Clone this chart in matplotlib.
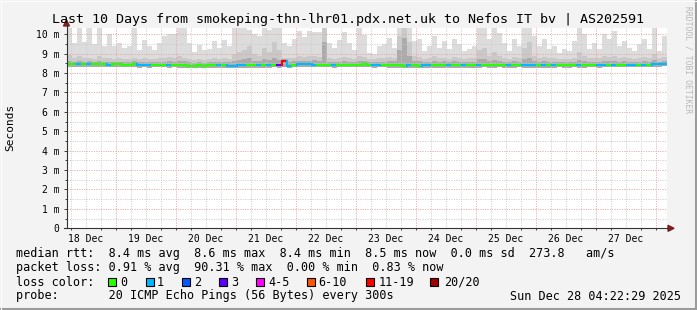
import numpy as np
import matplotlib
matplotlib.use("Agg")
import matplotlib.pyplot as plt
from matplotlib.collections import LineCollection
from matplotlib.patches import Rectangle, Polygon

W, H = 697, 310
MONO = "DejaVu Sans Mono"

# graph starts 18 Dec 04:22 (hours after 18 Dec 00:00), one value per 2 hours
t_start = 4.37
bin_hours = 2.0

# smoke: top of the outer (lightest) band, in ms
smoke_max = [
    10.5, 9.55, 10.5, 9.6, 10.5, 9.5, 10.5, 9.4, 10.0, 9.4, 9.55, 9.3, 9.4, 10.5, 9.2, 9.7, 9.4, 9.2, 9.55, 9.9,
    10.0, 10.0, 10.5, 10.5, 9.55, 9.1, 9.45, 9.2, 9.25, 9.65, 9.3, 9.7, 9.4, 10.5, 10.5, 10.5, 10.2, 10.0, 9.9, 10.5,
    10.2, 10.5, 10.5, 9.55, 9.4, 9.75, 10.15, 9.85, 10.15, 10.1, 10.1, 10.5, 9.55, 9.3, 9.7, 10.1, 9.55, 9.2, 10.5, 9.95,
    9.05, 8.97, 9.4, 9.48, 9.83, 9.31, 10.5, 10.5, 10.5, 9.65, 9.74, 9.14, 9.4, 9.91, 9.31, 9.65, 9.22, 9.74, 9.48, 9.14,
    9.22, 9.4, 10.5, 10.5, 9.74, 10.5, 10.08, 9.57, 9.14, 9.74, 9.4, 10.5, 10.5, 9.91, 9.4, 9.74, 9.22, 9.4, 9.05, 9.22,
    9.14, 9.65, 10.5, 10.0, 9.22, 9.57, 9.22, 10.0, 9.74, 10.17, 9.4, 9.65, 9.31, 9.14, 9.48, 9.74, 9.22, 10.5, 9.14, 9.91,
]
# top of the middle band
smoke_mid = [
    8.95, 8.8, 8.9, 8.75, 8.8, 8.7, 8.9, 8.75, 8.8, 8.7, 8.75, 8.7, 8.7, 8.8, 8.7, 8.75, 8.7, 8.7, 8.75, 8.8,
    8.85, 8.8, 8.9, 8.8, 8.7, 8.65, 8.7, 8.65, 8.7, 8.75, 8.7, 8.8, 8.7, 9.0, 9.1, 9.2, 9.4, 9.0, 8.9, 9.3,
    9.1, 9.6, 9.2, 8.75, 8.75, 8.8, 8.9, 8.85, 8.9, 8.9, 8.85, 10.5, 8.8, 8.7, 8.75, 8.85, 8.75, 8.7, 8.9, 8.85,
    8.7, 8.7, 8.75, 8.75, 8.85, 8.8, 9.9, 10.5, 9.6, 8.9, 8.85, 8.7, 8.75, 8.9, 8.75, 8.8, 8.7, 8.85, 8.8, 8.7,
    8.75, 8.8, 9.2, 9.3, 8.9, 9.1, 8.9, 8.8, 8.7, 8.85, 8.8, 9.3, 9.6, 8.9, 8.8, 8.85, 8.75, 8.8, 8.7, 8.7,
    8.7, 8.8, 9.1, 8.9, 8.75, 8.8, 8.75, 8.9, 8.85, 8.9, 8.8, 8.85, 8.75, 8.7, 8.8, 8.85, 8.75, 9.0, 8.75, 8.85,
]
# top of the dark band next to the median
smoke_dark = [
    8.62, 8.58, 8.60, 8.57, 8.60, 8.56, 8.62, 8.57, 8.59, 8.56, 8.57, 8.55, 8.56, 8.60, 8.55, 8.57, 8.55, 8.55, 8.57, 8.59,
    8.60, 8.58, 8.62, 8.60, 8.55, 8.54, 8.56, 8.54, 8.55, 8.57, 8.55, 8.58, 8.55, 8.64, 8.66, 8.70, 8.75, 8.62, 8.60, 8.70,
    8.66, 8.80, 8.66, 8.72, 8.58, 8.60, 8.64, 8.62, 8.64, 8.65, 8.62, 9.60, 8.58, 8.55, 8.57, 8.62, 8.57, 8.55, 8.64, 8.62,
    8.55, 8.55, 8.57, 8.57, 8.62, 8.60, 9.20, 9.80, 8.90, 8.64, 8.62, 8.55, 8.57, 8.64, 8.57, 8.60, 8.55, 8.62, 8.58, 8.55,
    8.57, 8.58, 8.70, 8.72, 8.64, 8.68, 8.64, 8.58, 8.55, 8.62, 8.58, 8.72, 8.80, 8.64, 8.58, 8.62, 8.57, 8.58, 8.55, 8.55,
    8.55, 8.58, 8.68, 8.64, 8.57, 8.58, 8.57, 8.64, 8.62, 8.64, 8.58, 8.62, 8.57, 8.55, 8.58, 8.62, 8.57, 8.66, 8.57, 8.62,
]
# bottom of the smoke
smoke_min = [
    8.30, 8.31, 8.30, 8.30, 8.29, 8.30, 8.31, 8.30, 8.29, 8.30, 8.30, 8.30, 8.29, 8.30, 8.28, 8.29, 8.28, 8.29, 8.30, 8.29,
    8.28, 8.29, 8.28, 8.28, 8.27, 8.27, 8.28, 8.27, 8.28, 8.28, 8.28, 8.28, 8.27, 8.27, 8.28, 8.28, 8.28, 8.28, 8.28, 8.28,
    8.28, 8.29, 8.27, 8.32, 8.27, 8.30, 8.32, 8.32, 8.31, 8.30, 8.30, 8.30, 8.30, 8.28, 8.29, 8.30, 8.29, 8.30, 8.30, 8.31,
    8.29, 8.28, 8.29, 8.29, 8.28, 8.28, 8.27, 8.27, 8.27, 8.28, 8.27, 8.28, 8.28, 8.28, 8.28, 8.28, 8.28, 8.28, 8.28, 8.28,
    8.28, 8.28, 8.28, 8.29, 8.28, 8.28, 8.29, 8.28, 8.28, 8.28, 8.29, 8.28, 8.28, 8.28, 8.28, 8.28, 8.28, 8.28, 8.29, 8.28,
    8.28, 8.29, 8.28, 8.28, 8.29, 8.29, 8.28, 8.29, 8.30, 8.29, 8.30, 8.29, 8.29, 8.30, 8.31, 8.30, 8.31, 8.32, 8.32, 8.34,
]
median_rtt = [
    8.45, 8.45, 8.44, 8.45, 8.44, 8.46, 8.45, 8.44, 8.43, 8.45, 8.44, 8.43, 8.42, 8.44, 8.41, 8.41, 8.41, 8.42, 8.43, 8.41,
    8.40, 8.41, 8.40, 8.39, 8.38, 8.38, 8.39, 8.38, 8.39, 8.40, 8.40, 8.40, 8.38, 8.38, 8.39, 8.39, 8.40, 8.39, 8.40, 8.39,
    8.40, 8.41, 8.39, 8.62, 8.38, 8.43, 8.46, 8.46, 8.45, 8.43, 8.42, 8.43, 8.42, 8.40, 8.41, 8.42, 8.41, 8.43, 8.42, 8.44,
    8.41, 8.40, 8.41, 8.41, 8.40, 8.40, 8.39, 8.38, 8.39, 8.39, 8.38, 8.39, 8.39, 8.40, 8.40, 8.39, 8.39, 8.40, 8.40, 8.39,
    8.40, 8.39, 8.40, 8.41, 8.40, 8.40, 8.41, 8.40, 8.39, 8.40, 8.41, 8.40, 8.39, 8.39, 8.40, 8.39, 8.40, 8.40, 8.41, 8.40,
    8.40, 8.41, 8.40, 8.40, 8.41, 8.41, 8.40, 8.41, 8.42, 8.41, 8.42, 8.41, 8.41, 8.42, 8.43, 8.42, 8.43, 8.44, 8.44, 8.46,
]
# lost pings (of 20) per value
loss = [
    0, 0, 1, 0, 1, 0, 0, 0, 1, 0, 0, 0, 0, 0, 1, 1, 1, 0, 0, 0,
    1, 0, 0, 0, 0, 0, 0, 0, 0, 0, 1, 0, 1, 1, 1, 1, 0, 0, 1, 0,
    1, 0, 3, 18, 1, 0, 1, 1, 1, 1, 0, 0, 0, 1, 0, 0, 0, 0, 0, 0,
    0, 1, 1, 0, 0, 0, 0, 0, 1, 0, 0, 1, 1, 0, 0, 0, 1, 0, 0, 1,
    0, 0, 1, 0, 0, 0, 0, 0, 1, 0, 0, 1, 1, 1, 0, 1, 0, 1, 0, 0,
    0, 0, 1, 0, 0, 0, 1, 1, 0, 1, 0, 0, 1, 1, 0, 1, 0, 1, 1, 1,
]

day_labels = ["18 Dec", "19 Dec", "20 Dec", "21 Dec", "22 Dec", "23 Dec", "24 Dec", "25 Dec", "26 Dec", "27 Dec"]
y_labels = ["0", "1 m", "2 m", "3 m", "4 m", "5 m", "6 m", "7 m", "8 m", "9 m", "10 m"]

loss_names = ["0", "1", "2", "3", "4-5", "6-10", "11-19", "20/20"]
loss_colors = ["#26ff00", "#00b8ff", "#0059ff", "#5e00ff", "#ff00ff", "#ff5500", "#ff0000", "#a10000"]
loss_upper = [0, 1, 2, 3, 5, 10, 19, 20]

title = "Last 10 Days from smokeping-thn-lhr01.pdx.net.uk to Nefos IT bv | AS202591"
line_rtt = "median rtt:  8.4 ms avg  8.6 ms max  8.4 ms min  8.5 ms now  0.0 ms sd  273.8   am/s"
line_loss = "packet loss: 0.91 % avg  90.31 % max  0.00 % min  0.83 % now"
line_probe = "probe:       20 ICMP Echo Pings (56 Bytes) every 300s"
stamp = "Sun Dec 28 04:22:29 2025"


def fx(px):
    return px / W


def fy(py):
    return 1 - py / H


def loss_color(n):
    for lim, c in zip(loss_upper, loss_colors):
        if n <= lim:
            return c
    return loss_colors[-1]


fig = plt.figure(figsize=(W / 100, H / 100), dpi=100, facecolor="#f3f3f3")

x0, x1, y0, y1 = 66.5, 666.5, 228.3, 28.0
ax = fig.add_axes([fx(x0), fy(y0), (x1 - x0) / W, (y0 - y1) / H])
ax.set_xlim(t_start, t_start + 240)
ax.set_ylim(0, 10.32)
ax.set_facecolor("white")
for s in ax.spines.values():
    s.set_visible(False)

edges = t_start + bin_hours * np.arange(len(smoke_max) + 1)

# smoke
ax.stairs(smoke_max, edges, baseline=smoke_min, fill=True, color="#dcdcdc", lw=0, zorder=1)
ax.stairs(smoke_mid, edges, baseline=smoke_min, fill=True, color="#c9c9c9", lw=0, zorder=1.1)
ax.stairs(smoke_dark, edges, baseline=smoke_min, fill=True, color="#ababab", lw=0, zorder=1.2)

# grid (dotted)
dots = (0, (1, 1.4))
for h in np.arange(6, 241, 6):
    major = h % 24 == 0
    ax.axvline(h, color="#eaa4a4" if major else "#cccccc", lw=0.72, ls=dots, zorder=2)
for v in np.arange(0.5, 10.4, 0.5):
    major = v % 1 == 0
    ax.axhline(v, color="#eaa4a4" if major else "#cccccc", lw=0.72, ls=dots, zorder=2)

# median line coloured by loss
segs, cols = [], []
for i, m in enumerate(median_rtt):
    c = loss_color(loss[i])
    if i > 0:
        segs.append([(edges[i], median_rtt[i - 1]), (edges[i], m)])
        cols.append(c)
    segs.append([(edges[i], m), (edges[i + 1], m)])
    cols.append(c)
ax.add_collection(LineCollection(segs, colors=cols, linewidths=1.5, capstyle="projecting", zorder=3))

# ticks
ax.set_yticks(range(11))
ax.set_yticklabels(y_labels, fontsize=7, family=MONO)
ax.set_yticks(np.arange(0.5, 10.4, 0.5), minor=True)
noons = [12 + 24 * d for d in range(10)]
ax.set_xticks(noons)
ax.set_xticklabels(day_labels, fontsize=7, family=MONO)
ax.set_xticks(np.arange(6, 241, 6), minor=True)
ax.tick_params(axis="y", which="major", length=2, width=0.7, color="#404040", pad=3)
ax.tick_params(axis="y", which="minor", length=1.2, width=0.7, color="#404040")
ax.tick_params(axis="x", which="major", length=0, pad=4)
ax.tick_params(axis="x", which="minor", length=1.5, width=0.7, color="#404040")

# axes lines with arrows
fig.add_artist(plt.Line2D([fx(x0), fx(x0)], [fy(y0), fy(25)], color="#333333", lw=0.8))
fig.add_artist(plt.Line2D([fx(x0 - 3), fx(669)], [fy(y0), fy(y0)], color="#333333", lw=0.8))
fig.add_artist(Polygon([(fx(x0 - 3), fy(26)), (fx(x0 + 3), fy(26)), (fx(x0), fy(20))],
                       closed=True, color="#7f1f1f", transform=fig.transFigure))
fig.add_artist(Polygon([(fx(668), fy(y0 - 3)), (fx(668), fy(y0 + 3)), (fx(674), fy(y0))],
                       closed=True, color="#7f1f1f", transform=fig.transFigure))

# texts
fig.text(0.5, fy(19), title, ha="center", va="center", fontsize=9.6, family=MONO)
fig.text(fx(10), fy(127), "Seconds", rotation=90, ha="center", va="center", fontsize=8, family=MONO)
fig.text(fx(688), fy(6), "RRDTOOL / TOBI OETIKER", rotation=-90, ha="center", va="top",
         fontsize=5.8, family=MONO, color="#b8b8b8")

fig.text(fx(16), fy(254), line_rtt, ha="left", va="center", fontsize=8.5, family=MONO)
fig.text(fx(16), fy(268), line_loss, ha="left", va="center", fontsize=8.5, family=MONO)
fig.text(fx(16), fy(282), "loss color:", ha="left", va="center", fontsize=8.5, family=MONO)
fig.text(fx(16), fy(296), line_probe, ha="left", va="center", fontsize=8.5, family=MONO)
fig.text(fx(681), fy(296), stamp, ha="right", va="center", fontsize=8.5, family=MONO)

box_x = [108.3, 145.7, 182.3, 219, 255.7, 306.7, 366, 430]
text_x = [120, 157, 194, 231, 268, 318.5, 378.5, 444.5]
for bx, tx, name, c in zip(box_x, text_x, loss_names, loss_colors):
    fig.add_artist(Rectangle((fx(bx), fy(286)), 8 / W, 8 / H, transform=fig.transFigure,
                             facecolor=c, edgecolor="black", lw=0.8))
    fig.text(fx(tx), fy(282), name, ha="left", va="center", fontsize=8.5, family=MONO)

# frame shading
fig.add_artist(plt.Line2D([0, 1], [fy(309), fy(309)], color="#9c9c9c", lw=1.5))
fig.add_artist(plt.Line2D([fx(696), fx(696)], [0, 1], color="#9c9c9c", lw=1.5))
fig.add_artist(plt.Line2D([0, 1], [fy(0.5), fy(0.5)], color="#fcfcfc", lw=0.8))
fig.add_artist(plt.Line2D([fx(0.5), fx(0.5)], [0, 1], color="#fcfcfc", lw=0.8))

fig.savefig("out.png", dpi=100, facecolor=fig.get_facecolor())
